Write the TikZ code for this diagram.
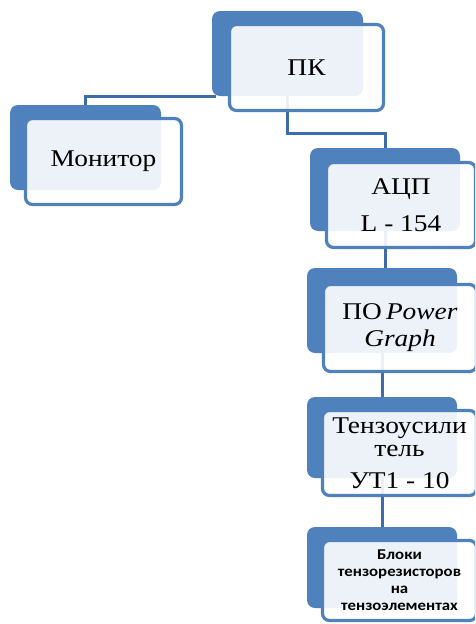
\documentclass[tikz,border=0pt]{standalone}
\usepackage{fontspec}
\setmainfont[FakeStretch=1.14]{Liberation Serif}
\newfontfamily\blkfont[FakeStretch=1.12]{Carlito}
\definecolor{boxblue}{RGB}{79,129,189}
\definecolor{lineblue}{RGB}{62,108,168}
\tikzset{
  backbox/.style={draw=none, fill=boxblue, rounded corners=8pt, inner sep=0pt,
    minimum width=#1},
  frontbox/.style={draw=boxblue, line width=3.2pt, fill=white, fill opacity=0.9,
    text opacity=1, rounded corners=7pt, inner sep=0pt, align=center,
    font=\fontsize{24}{28}\selectfont},
  conn/.style={draw=lineblue, line width=3pt},
}
\begin{document}
\begin{tikzpicture}[x=1pt,y=-1pt]
\useasboundingbox (0,0) rectangle (475,624);
\clip (0,0) rectangle (475,624);
% back boxes
\node[backbox=151pt, minimum height=85pt] (pkb) at (287.5,53.5) {};
\node[backbox=151pt, minimum height=85pt] (monb) at (85.5,147.5) {};
\node[backbox=150pt, minimum height=83pt] (adcb) at (385,189.5) {};
\node[backbox=150pt, minimum height=85pt] (pob) at (382,310.5) {};
\node[backbox=150pt, minimum height=81pt] (tenb) at (382,437.5) {};
\node[backbox=150pt, minimum height=81pt] (blkb) at (382,567.5) {};
% connectors
\coordinate (j1) at (340,133);
\draw[conn] ([xshift=4pt]pkb.south west) -| (monb.north);
\draw[conn] (pkb.south) |- (j1) -| (adcb.north);
\draw[conn] (adcb.south) -- (adcb.south |- pob.north);
\draw[conn] (pob.south) -- (pob.south |- tenb.north);
\draw[conn] (tenb.south) -- (tenb.south |- blkb.north);
% front boxes
\node[frontbox, minimum width=154pt, minimum height=86pt] (pkf) at (306.5,67.5) {ПК};
\node[frontbox, minimum width=156pt, minimum height=86pt] (monf) at (103.5,161.5) {Монитор};
\node[frontbox, minimum width=149pt, minimum height=85pt, font=\fontsize{24}{37}\selectfont] (adcf) at (401,205) {АЦП\\L - 154};
\node[frontbox, minimum width=153pt, minimum height=87pt, font=\fontsize{24}{27}\selectfont] (pof) at (400,328) {ПО\,\textit{Power}\\\textit{Graph}};
\node[frontbox, minimum width=154pt, minimum height=85pt, font=\fontsize{24}{23}\selectfont] (tenf) at (399.5,453) {Тензоусили\\тель\\[9pt]УТ1 - 10};
\node[frontbox, minimum width=154pt, minimum height=80pt, font=\blkfont\bfseries\fontsize{15}{17}\selectfont] (blkf) at (399.5,580.5) {Блоки\\тензорезисторов\\на\\тензоэлементах};
\end{tikzpicture}
\end{document}
